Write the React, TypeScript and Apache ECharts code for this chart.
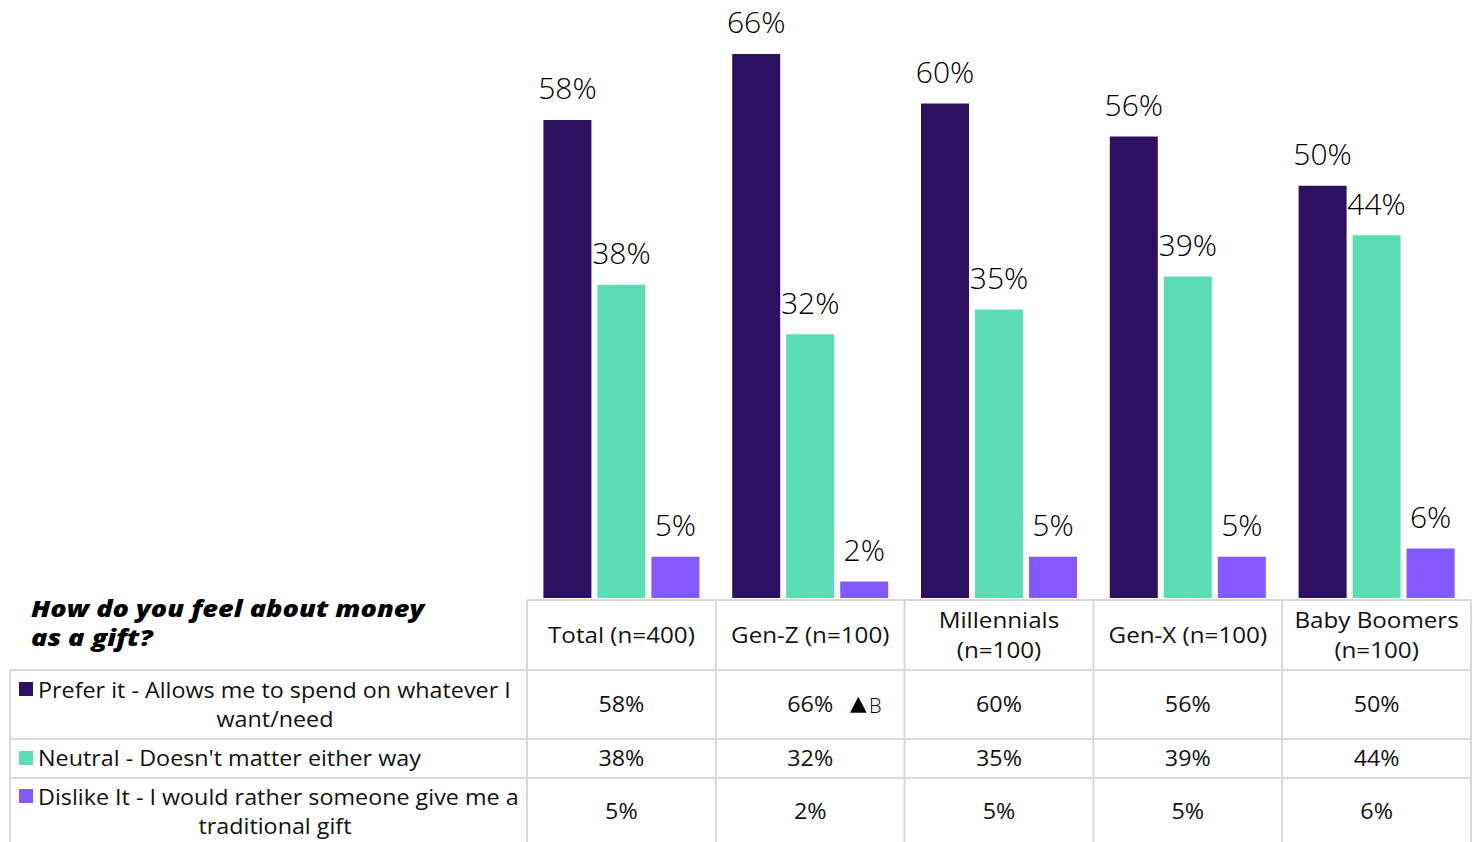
import React, { useEffect, useRef } from "react";
import * as echarts from "echarts";

const categories = ["Total (n=400)", "Gen-Z (n=100)", "Millennials (n=100)", "Gen-X (n=100)", "Baby Boomers (n=100)"];
const headerLines = [["Total (n=400)"], ["Gen-Z (n=100)"], ["Millennials", "(n=100)"], ["Gen-X (n=100)"], ["Baby Boomers", "(n=100)"]];
const seriesNames = [
  "Prefer it - Allows me to spend on whatever I want/need",
  "Neutral - Doesn't matter either way",
  "Dislike It - I would rather someone give me a traditional gift",
];
const rowLabelLines = [
  ["Prefer it - Allows me to spend on whatever I", "want/need"],
  ["Neutral - Doesn't matter either way"],
  ["Dislike It - I would rather someone give me a", "traditional gift"],
];
const prefer = [58, 66, 60, 56, 50];
const neutral = [38, 32, 35, 39, 44];
const dislike = [5, 2, 5, 5, 6];
const sigMarks = ["", "B", "", "", ""];
const titleLines = ["How do you feel about money", "as a gift?"];
const colors = ["#2D1160", "#5CDEB4", "#825AFF"];

const FONT = "Open Sans";

export default function App() {
  const ref = useRef<HTMLDivElement>(null);
  useEffect(() => {
    const chart = echarts.init(ref.current!, undefined, { renderer: "svg" });
    const gridLeft = 527;
    const gridRight = 1471;
    const colW = (gridRight - gridLeft) / categories.length;
    const values = [prefer, neutral, dislike];

    const lineStyle = { stroke: "#D9D9D9", lineWidth: 2 };
    const txt = { fontFamily: FONT, fontSize: 22, fontWeight: 400, fill: "#111" };
    const g: any[] = [];
    g.push({ type: "line", shape: { x1: gridLeft, y1: 600, x2: gridRight, y2: 600 }, style: lineStyle });
    [670, 739, 778].forEach((y) =>
      g.push({ type: "line", shape: { x1: 10, y1: y, x2: gridRight, y2: y }, style: lineStyle })
    );
    g.push({ type: "line", shape: { x1: 10, y1: 670, x2: 10, y2: 842 }, style: lineStyle });
    for (let i = 0; i <= categories.length; i++) {
      const x = gridLeft + i * colW;
      g.push({ type: "line", shape: { x1: x, y1: 600, x2: x, y2: 842 }, style: lineStyle });
    }
    titleLines.forEach((t, i) =>
      g.push({
        type: "text",
        x: 31,
        y: 608 + i * 29,
        scaleX: 1.18,
        style: { text: t, fontFamily: FONT, fontSize: 23, fontWeight: 800, fontStyle: "italic", fill: "#000", textVerticalAlign: "middle" },
      })
    );
    headerLines.forEach((lines, i) => {
      const cx = gridLeft + (i + 0.5) * colW;
      const n = lines.length;
      lines.forEach((t, j) =>
        g.push({
          type: "text",
          x: cx,
          y: 634 + (j - (n - 1) / 2) * 30,
          scaleX: 1.1,
          style: { ...txt, text: t, textAlign: "center", textVerticalAlign: "middle" },
        })
      );
    });
    const rowCenters = [704, 758, 811];
    rowLabelLines.forEach((lines, r) => {
      const cy = rowCenters[r];
      const n = lines.length;
      g.push({ type: "rect", shape: { x: 19, y: cy - (n - 1) * 15 - 7, width: 14, height: 14 }, style: { fill: colors[r] } });
      lines.forEach((t, j) => {
        const y = cy + (j - (n - 1) / 2) * 29;
        if (j === 0) {
          g.push({ type: "text", x: 38, y, scaleX: 1.06, style: { ...txt, text: t, textVerticalAlign: "middle" } });
        } else {
          g.push({ type: "text", x: 275, y, scaleX: 1.06, style: { ...txt, text: t, textAlign: "center", textVerticalAlign: "middle" } });
        }
      });
      values[r].forEach((v, i) => {
        const cx = gridLeft + (i + 0.5) * colW;
        g.push({ type: "text", x: cx, y: cy, scaleX: 1.06, style: { ...txt, text: v + "%", textAlign: "center", textVerticalAlign: "middle" } });
        if (r === 0 && sigMarks[i]) {
          g.push({ type: "polygon", shape: { points: [[850, cy + 8.7], [866.7, cy + 8.7], [858.3, cy - 7.3]] }, style: { fill: "#000" } });
          g.push({ type: "text", x: 869, y: cy + 1, style: { text: sigMarks[i], fontFamily: FONT, fontSize: 20, fontWeight: 300, fill: "#000", textVerticalAlign: "middle" } });
        }
      });
    });

    chart.setOption({
      animation: false,
      grid: { left: gridLeft, right: 1473 - gridRight, top: 21, bottom: 244, containLabel: false },
      xAxis: {
        type: "category",
        data: categories,
        axisLine: { show: false },
        axisTick: { show: false },
        axisLabel: { show: false },
      },
      yAxis: { type: "value", min: 0, max: 70, show: false, splitLine: { show: false } },
      series: values.map((vals, s) => ({
        type: "bar",
        name: seriesNames[s],
        data: vals,
        barWidth: 48,
        barGap: "12.5%",
        itemStyle: { color: colors[s] },
        label: {
          show: true,
          position: "top",
          distance: 17,
          formatter: "{c}%",
          fontFamily: FONT,
          fontSize: 30,
          fontWeight: 300,
          color: "#000",
        },
      })),
      graphic: g,
    });
    return () => chart.dispose();
  }, []);
  return <div ref={ref} style={{ position: "absolute", left: 0, top: 0, width: 1473, height: 842 }} />;
}
